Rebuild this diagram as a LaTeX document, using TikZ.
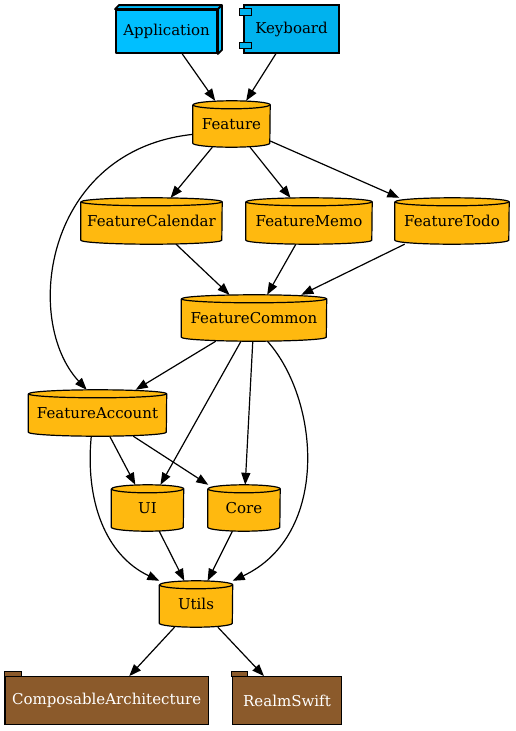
\documentclass[tikz,border=0pt]{standalone}
\usepackage{fontspec}
\setmainfont{DejaVu Serif}
\usetikzlibrary{arrows.meta}
\pgfdeclarelayer{background}
\pgfsetlayers{background,main}
\definecolor{cylfill}{HTML}{FFB90F}
\definecolor{appfill}{HTML}{00BFFF}
\definecolor{kbfill}{HTML}{00B2EE}
\definecolor{brownfill}{HTML}{8B5A2B}
\tikzset{
  every node/.style={font=\rmfamily\fontsize{15}{18}\selectfont, inner sep=0pt},
  cyl/.style={minimum height=46pt},
  cylshape/.style={draw=black, fill=cylfill, line width=1.2pt, line join=round},
  edge/.style={draw=black, line width=1.2pt, -{Triangle[length=12pt,width=9pt]}},
  pkg/.style={fill=brownfill, draw=black, line width=1.2pt, text=white, minimum height=47.6pt},
  appbox/.style={fill=appfill, draw=black, line width=1.9pt, line join=round, minimum width=101pt, minimum height=43pt},
  kbbox/.style={fill=kbfill, draw=black, line width=1.2pt, minimum width=95pt, minimum height=48pt},
}
% name, x, y, width, text, half width
\newcommand\cylnode[6]{%
  \node[cyl, minimum width=#4pt] (#1) at (#2,#3) {#5};
  \begin{pgfonlayer}{background}
    \path[cylshape] ([yshift=-4pt]#1.north west) -- ([yshift=4pt]#1.south west)
      arc[start angle=180,end angle=360,x radius=#6pt,y radius=4pt]
      -- ([yshift=-4pt]#1.north east)
      arc[start angle=0,end angle=180,x radius=#6pt,y radius=4pt] -- cycle;
    \draw[line width=1.2pt] ([yshift=-4pt]#1.north west)
      arc[start angle=180,end angle=360,x radius=#6pt,y radius=4pt];
  \end{pgfonlayer}}
\begin{document}
\begin{tikzpicture}[x=1pt,y=-1pt]
\useasboundingbox (0,0) rectangle (516,731);
% top row
\node[appbox] (app) at (166.5,31.5) {Application};
\begin{pgfonlayer}{background}
  \filldraw[fill=appfill, line width=1.9pt, line join=round]
    (app.north west) -- ([shift={(4pt,4pt)}]app.north west)
    -- ([shift={(4pt,4pt)}]app.north east) -- ([shift={(4pt,4pt)}]app.south east)
    -- (app.south east) -- (app.north east) -- cycle;
\end{pgfonlayer}
\draw[line width=1.9pt] (app.north east) -- ([shift={(4pt,4pt)}]app.north east);
\node[kbbox] (kb) at (291.5,29) {Keyboard};
\filldraw[fill=kbfill, line width=1.2pt] ([shift={(-4pt,-4pt)}]kb.north west) rectangle ([shift={(8pt,-11pt)}]kb.north west);
\filldraw[fill=kbfill, line width=1.2pt] ([shift={(-4pt,5pt)}]kb.south west) rectangle ([shift={(8pt,11pt)}]kb.south west);
% cylinders
\cylnode{feat}{231.5}{124}{77}{Feature}{38.5}
\cylnode{cal}{151.5}{221}{141}{FeatureCalendar}{70.5}
\cylnode{memo}{309}{221}{126}{FeatureMemo}{63}
\cylnode{todo}{452}{221}{114}{FeatureTodo}{57}
\cylnode{fc}{254}{318}{145}{FeatureCommon}{72.5}
\cylnode{fa}{97.5}{413}{138}{FeatureAccount}{69}
\cylnode{ui}{147.5}{508}{72}{UI}{36}
\cylnode{core}{244}{508}{72}{Core}{36}
\cylnode{utils}{196}{604}{73}{Utils}{36.5}
% packages
\node[pkg, minimum width=203.3pt] (ca) at (106.7,700.5) {ComposableArchitecture};
\filldraw[fill=brownfill, line width=1.2pt] (ca.north west) rectangle ([shift={(16.7pt,5pt)}]ca.north west);
\node[pkg, minimum width=109.4pt] (rs) at (287,700.5) {RealmSwift};
\filldraw[fill=brownfill, line width=1.2pt] (rs.north west) rectangle ([shift={(15.4pt,5pt)}]rs.north west);
% edges
\draw[edge] (app) -- (feat);
\draw[edge] (kb) -- (feat);
\draw[edge] (feat) -- (cal);
\draw[edge] (feat) -- (memo);
\draw[edge] (feat) -- (todo);
\draw[edge] (feat.195) .. controls (45,150) and (22,320) .. (fa.115);
\draw[edge] (cal) -- (fc);
\draw[edge] (memo) -- (fc);
\draw[edge] (todo) -- (fc);
\draw[edge] (fc) -- (fa);
\draw[edge] (fc) -- (ui);
\draw[edge] (fc) -- (core);
\draw[edge] (fc.300) .. controls (320,400) and (330,535) .. (utils.north east);
\draw[edge] (fa) -- (ui);
\draw[edge] (fa) -- (core);
\draw[edge] (fa.255) .. controls (85,500) and (105,555) .. (utils.north west);
\draw[edge] (ui) -- (utils);
\draw[edge] (core) -- (utils);
\draw[edge] (utils) -- (ca);
\draw[edge] (utils) -- (rs);
\end{tikzpicture}
\end{document}
